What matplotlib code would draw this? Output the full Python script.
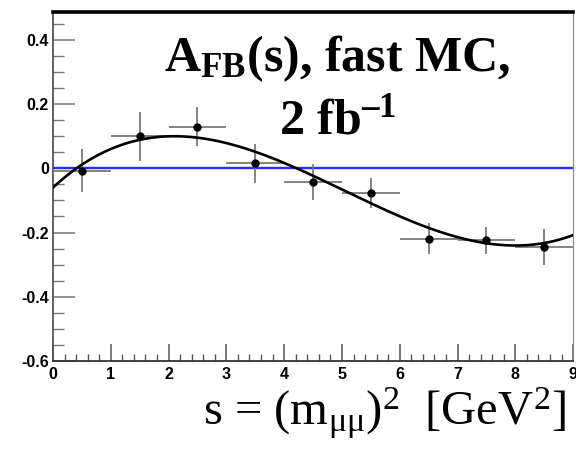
import numpy as np
import matplotlib
matplotlib.use("Agg")
import matplotlib.pyplot as plt
from matplotlib.ticker import MultipleLocator

plt.rcParams["mathtext.fontset"] = "custom"
plt.rcParams["mathtext.rm"] = "Liberation Serif"
plt.rcParams["mathtext.it"] = "Liberation Serif:italic"
plt.rcParams["mathtext.bf"] = "Liberation Serif:bold"

# binned A_FB(s), 1 GeV^2 bins
s_centers = [0.5, 1.5, 2.5, 3.5, 4.5, 5.5, 6.5, 7.5, 8.5]
s_halfwidth = [0.5] * 9
afb = [-0.007, 0.100, 0.130, 0.016, -0.043, -0.077, -0.219, -0.224, -0.245]
afb_err = [0.068, 0.076, 0.062, 0.061, 0.056, 0.048, 0.049, 0.042, 0.056]

# cubic fit parameters p0 + p1*s + p2*s^2 + p3*s^3
fit_pars = [-0.060, 0.1668, -0.05015, 0.00331]

fig = plt.figure(figsize=(5.76, 4.62), dpi=100)
ax = fig.add_axes([0.092, 0.2186, 0.903, 0.7544])

ax.axhline(0.0, color="#2a2aff", lw=1.7, zorder=2)
ax.errorbar(s_centers, afb, xerr=s_halfwidth, yerr=afb_err, fmt="o",
            color="black", ms=5, ecolor="#7a7a7a", elinewidth=1.3,
            capsize=0, zorder=3)

s_fine = np.linspace(0, 9, 300)
ax.plot(s_fine, np.polyval(fit_pars[::-1], s_fine), color="black", lw=1.9, zorder=4)

ax.set_xlim(0, 9)
ax.set_ylim(-0.6, 0.485)
ax.xaxis.set_major_locator(MultipleLocator(1))
ax.xaxis.set_minor_locator(MultipleLocator(0.2))
ax.yaxis.set_minor_locator(MultipleLocator(0.05))
ax.set_yticks([-0.6, -0.4, -0.2, 0, 0.2, 0.4])
ax.set_yticklabels(["-0.6", "-0.4", "-0.2", "0", "0.2", "0.4"])

ax.tick_params(axis="x", which="major", direction="in", length=12, width=1.1,
               color="#555555", pad=4, labelsize=11.5)
ax.tick_params(axis="x", which="minor", direction="in", length=5, width=1.0,
               color="#555555")
ax.tick_params(axis="y", which="major", direction="in", length=16, width=1.1,
               color="#777777", pad=3, labelsize=11.5)
ax.tick_params(axis="y", which="minor", direction="in", length=8, width=1.0,
               color="#777777")
for lab in ax.get_xticklabels() + ax.get_yticklabels():
    lab.set_fontfamily("Liberation Sans")
    lab.set_fontweight("bold")

ax.spines["top"].set_linewidth(2.6)
ax.spines["top"].set_color("black")
ax.spines["right"].set_linewidth(0.8)
ax.spines["right"].set_color("#888888")
ax.spines["left"].set_linewidth(1.3)
ax.spines["left"].set_color("#555555")
ax.spines["bottom"].set_linewidth(1.3)
ax.spines["bottom"].set_color("#333333")

title_kw = dict(family="Liberation Serif", fontweight="bold", fontsize=36,
                ha="center", va="baseline")
fig.text(0.586, 0.845, r"A$_{\mathbf{FB}}$(s), fast MC,", **title_kw)
fig.text(0.586, 0.710, "2 fb$^{\\mathbf{\u20131}}$", **title_kw)

fig.text(0.983, 0.080, r"s = (m$_{\mathrm{μμ}}$)$^{2}$  [GeV$^{2}$]",
         family="Liberation Serif", fontsize=35, ha="right", va="baseline")

fig.savefig("out.png", dpi=100)
